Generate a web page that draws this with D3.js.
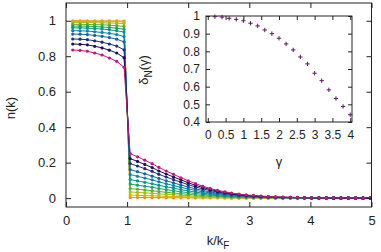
<!DOCTYPE html>
<html>
<head>
<meta charset="utf-8">
<script src="https://cdn.jsdelivr.net/npm/d3@7"></script>
<style>
  body { margin: 0; background: #fff; }
  text { font-family: "Liberation Sans", Arial, sans-serif; fill: #222; }
</style>
</head>
<body>
<script>

// MAIN PLOT DATA: n(k) for several couplings
//
var kBelow = [0.11, 0.23, 0.35, 0.47, 0.59, 0.71, 0.83, 0.95];
var kAbove = [1.05, 1.17, 1.29, 1.41, 1.52, 1.64, 1.76, 1.88, 2.00, 2.12, 2.24, 2.36,
              2.48, 2.60, 2.71, 2.83, 2.95, 3.07, 3.19, 3.31, 3.43, 3.55, 3.67, 3.79,
              3.90, 4.02, 4.14, 4.26, 4.38, 4.50, 4.62, 4.74, 4.86, 4.98];

var curveColors = ["#ef8a0c", "#d6b000", "#a6bf12", "#5aae30", "#1f9f62", "#00968a",
                   "#0a84a0", "#1762a2", "#1c2e80", "#1e0f5a", "#c2187a"];

var nBelow = [
  [1.000, 1.000, 1.000, 0.999, 0.999, 0.999, 0.999, 0.998],
  [0.996, 0.996, 0.996, 0.996, 0.995, 0.995, 0.994, 0.994],
  [0.990, 0.990, 0.990, 0.989, 0.988, 0.987, 0.986, 0.984],
  [0.980, 0.980, 0.979, 0.978, 0.977, 0.975, 0.972, 0.968],
  [0.970, 0.970, 0.969, 0.967, 0.965, 0.962, 0.958, 0.952],
  [0.960, 0.960, 0.958, 0.956, 0.953, 0.949, 0.944, 0.936],
  [0.944, 0.943, 0.942, 0.938, 0.934, 0.929, 0.922, 0.911],
  [0.925, 0.924, 0.922, 0.917, 0.912, 0.905, 0.896, 0.881],
  [0.897, 0.896, 0.893, 0.887, 0.879, 0.869, 0.857, 0.836],
  [0.869, 0.867, 0.864, 0.856, 0.847, 0.834, 0.818, 0.792],
  [0.835, 0.833, 0.828, 0.818, 0.807, 0.790, 0.771, 0.738]
];

var nAbove = [
  [0.004, 0.004, 0.003, 0.003, 0.003, 0.002, 0.002, 0.002, 0.002, 0.001, 0.001, 0.001,
   0.001, 0.001, 0, 0, 0, 0, 0, 0, 0, 0, 0, 0, 0, 0, 0, 0, 0, 0, 0, 0, 0, 0],
  [0.017, 0.016, 0.014, 0.013, 0.012, 0.010, 0.009, 0.008, 0.007, 0.006, 0.005, 0.004,
   0.003, 0.002, 0.002, 0.002, 0.001, 0.001, 0.001, 0.001, 0, 0, 0, 0, 0, 0, 0, 0,
   0, 0, 0, 0, 0, 0],
  [0.035, 0.032, 0.030, 0.027, 0.024, 0.021, 0.019, 0.016, 0.014, 0.011, 0.009, 0.008,
   0.006, 0.005, 0.004, 0.003, 0.003, 0.002, 0.002, 0.001, 0.001, 0.001, 0.001, 0.001,
   0, 0, 0, 0, 0, 0, 0, 0, 0, 0],
  [0.054, 0.050, 0.046, 0.042, 0.037, 0.033, 0.029, 0.025, 0.021, 0.018, 0.014, 0.012,
   0.010, 0.008, 0.006, 0.005, 0.004, 0.003, 0.002, 0.002, 0.002, 0.001, 0.001, 0.001,
   0.001, 0.001, 0, 0, 0, 0, 0, 0, 0, 0],
  [0.079, 0.073, 0.067, 0.061, 0.054, 0.048, 0.042, 0.036, 0.031, 0.026, 0.021, 0.017,
   0.014, 0.011, 0.009, 0.007, 0.006, 0.005, 0.004, 0.003, 0.002, 0.002, 0.002, 0.001,
   0.001, 0.001, 0.001, 0.001, 0, 0, 0, 0, 0, 0],
  [0.105, 0.097, 0.089, 0.081, 0.072, 0.064, 0.056, 0.048, 0.041, 0.034, 0.028, 0.023,
   0.018, 0.015, 0.012, 0.010, 0.008, 0.006, 0.005, 0.004, 0.003, 0.002, 0.002, 0.002,
   0.001, 0.001, 0.001, 0.001, 0.001, 0.001, 0, 0, 0, 0],
  [0.133, 0.123, 0.113, 0.103, 0.092, 0.081, 0.071, 0.061, 0.052, 0.043, 0.036, 0.029,
   0.023, 0.019, 0.015, 0.012, 0.010, 0.008, 0.006, 0.005, 0.004, 0.003, 0.003, 0.002,
   0.002, 0.001, 0.001, 0.001, 0.001, 0.001, 0.001, 0, 0, 0],
  [0.161, 0.149, 0.137, 0.124, 0.111, 0.098, 0.086, 0.074, 0.063, 0.052, 0.043, 0.035,
   0.028, 0.023, 0.018, 0.015, 0.012, 0.009, 0.007, 0.006, 0.005, 0.004, 0.003, 0.002,
   0.002, 0.002, 0.001, 0.001, 0.001, 0.001, 0.001, 0.001, 0, 0],
  [0.195, 0.181, 0.166, 0.151, 0.134, 0.119, 0.104, 0.090, 0.076, 0.063, 0.052, 0.043,
   0.034, 0.028, 0.022, 0.018, 0.014, 0.011, 0.009, 0.007, 0.006, 0.004, 0.004, 0.003,
   0.002, 0.002, 0.002, 0.001, 0.001, 0.001, 0.001, 0.001, 0.001, 0.001],
  [0.223, 0.207, 0.190, 0.172, 0.153, 0.136, 0.119, 0.103, 0.087, 0.072, 0.060, 0.049,
   0.039, 0.032, 0.025, 0.020, 0.016, 0.013, 0.010, 0.008, 0.006, 0.005, 0.004, 0.003,
   0.003, 0.002, 0.002, 0.002, 0.001, 0.001, 0.001, 0.001, 0.001, 0.001],
  [0.251, 0.233, 0.214, 0.194, 0.173, 0.153, 0.134, 0.115, 0.098, 0.082, 0.067, 0.055,
   0.044, 0.036, 0.029, 0.023, 0.018, 0.015, 0.012, 0.009, 0.007, 0.006, 0.005, 0.004,
   0.003, 0.003, 0.002, 0.002, 0.002, 0.001, 0.001, 0.001, 0.001, 0.001]
];

var mainXTicks = [0, 1, 2, 3, 4, 5];
var mainYTicks = [0, 0.2, 0.4, 0.6, 0.8, 1];

// INSET DATA: delta_N(gamma)
//
var gammaValues = [0.2, 0.4, 0.6, 0.8, 1.0, 1.2, 1.4, 1.6, 1.8, 2.0,
                   2.2, 2.4, 2.6, 2.8, 3.0, 3.2, 3.4, 3.6, 3.8, 4.0];
var deltaValues = [0.996, 0.994, 0.987, 0.981, 0.973, 0.959, 0.944, 0.921, 0.900, 0.874,
                   0.842, 0.808, 0.768, 0.729, 0.676, 0.634, 0.582, 0.533, 0.488, 0.441];

var insetXTicks = [0, 0.5, 1, 1.5, 2, 2.5, 3, 3.5, 4];
var insetYTicks = [0.4, 0.5, 0.6, 0.7, 0.8, 0.9, 1];

var width = 381;
var height = 252;

var svg = d3.select("body").append("svg")
  .attr("width", width)
  .attr("height", height);

// MAIN SCALES
//
var x = d3.scaleLinear().domain([0, 5]).range([66, 371.5]);
var y = d3.scaleLinear().domain([-0.05, 1.1]).range([207, 3]);

function drawFrame(g, xs, ys, xt, yt, tickLen, fontSize, pad) {
  var x0 = xs.range()[0], x1 = xs.range()[1];
  var y0 = ys.range()[0], y1 = ys.range()[1];

  g.append("rect")
    .attr("x", x0).attr("y", y1)
    .attr("width", x1 - x0).attr("height", y0 - y1)
    .attr("fill", "none").attr("stroke", "#222").attr("stroke-width", 1);

  var bottom = g.append("g").attr("transform", "translate(0," + y0 + ")")
    .call(d3.axisBottom(xs).tickValues(xt).tickSize(-tickLen).tickSizeOuter(0)
      .tickPadding(pad[0]).tickFormat(d3.format("")));
  var left = g.append("g").attr("transform", "translate(" + x0 + ",0)")
    .call(d3.axisLeft(ys).tickValues(yt).tickSize(-tickLen).tickSizeOuter(0)
      .tickPadding(pad[1]).tickFormat(d3.format("")));
  var top = g.append("g").attr("transform", "translate(0," + y1 + ")")
    .call(d3.axisTop(xs).tickValues(xt).tickSize(-tickLen).tickSizeOuter(0)
      .tickFormat(""));
  var right = g.append("g").attr("transform", "translate(" + x1 + ",0)")
    .call(d3.axisRight(ys).tickValues(yt).tickSize(-tickLen).tickSizeOuter(0)
      .tickFormat(""));

  [bottom, left, top, right].forEach(function(a) {
    a.select(".domain").remove();
    a.selectAll("line").attr("stroke", "#222");
    a.selectAll("text").style("font-size", fontSize + "px")
      .style("font-family", "Liberation Sans, Arial, sans-serif").attr("fill", "#222");
  });
}

// MAIN CURVES
//
var line = d3.line()
  .x(function(d) { return x(d.k); })
  .y(function(d) { return y(d.n); });

var curves = curveColors.map(function(c, i) {
  var pts = [];
  kBelow.forEach(function(k, j) { pts.push({ k: k, n: nBelow[i][j] }); });
  kAbove.forEach(function(k, j) { pts.push({ k: k, n: nAbove[i][j] }); });
  return { color: c, points: pts };
});

var gCurves = svg.append("g");

curves.forEach(function(c) {
  var g = gCurves.append("g");
  g.append("path")
    .attr("d", line(c.points))
    .attr("fill", "none")
    .attr("stroke", c.color)
    .attr("stroke-width", 1);
  g.selectAll("circle").data(c.points).enter().append("circle")
    .attr("cx", function(d) { return x(d.k); })
    .attr("cy", function(d) { return y(d.n); })
    .attr("r", 1.6)
    .attr("fill", c.color);
});

drawFrame(svg.append("g"), x, y, mainXTicks, mainYTicks, 5, 13, [9, 10]);

svg.append("text")
  .attr("transform", "translate(15,108) rotate(-90)")
  .attr("text-anchor", "middle")
  .style("font-size", "13px")
  .text("n(k)");

var xl = svg.append("text")
  .attr("x", 218).attr("y", 245)
  .attr("text-anchor", "middle")
  .style("font-size", "13px");
xl.append("tspan").text("k/k");
xl.append("tspan").attr("dy", 4).style("font-size", "10px").text("F");

// INSET
//
var xi = d3.scaleLinear().domain([-0.05, 4.05]).range([206, 352]);
var yi = d3.scaleLinear().domain([0.4, 1.0]).range([122, 16]);

var gInset = svg.append("g");

gInset.append("rect")
  .attr("x", 206).attr("y", 16).attr("width", 146).attr("height", 106)
  .attr("fill", "#fff");

drawFrame(gInset, xi, yi, insetXTicks, insetYTicks, 4, 12, [8, 6]);

var cross = 2.2;
gInset.selectAll(".pt").data(gammaValues).enter().append("path")
  .attr("class", "pt")
  .attr("d", function(g, i) {
    var cx = xi(g), cy = yi(deltaValues[i]);
    return "M" + (cx - cross) + "," + cy + "H" + (cx + cross) +
           "M" + cx + "," + (cy - cross) + "V" + (cy + cross);
  })
  .attr("stroke", "#5a1a62")
  .attr("stroke-width", 1);

gInset.append("text")
  .attr("transform", "translate(148,70) rotate(-90)")
  .attr("text-anchor", "middle")
  .style("font-size", "13px")
  .call(function(t) {
    t.append("tspan").text("δ");
    t.append("tspan").attr("dy", 4).style("font-size", "10px").text("N");
    t.append("tspan").attr("dy", -4).text("(γ)");
  });

gInset.append("text")
  .attr("x", 279).attr("y", 166)
  .attr("text-anchor", "middle")
  .style("font-size", "13px")
  .text("γ");

</script>
</body>
</html>
